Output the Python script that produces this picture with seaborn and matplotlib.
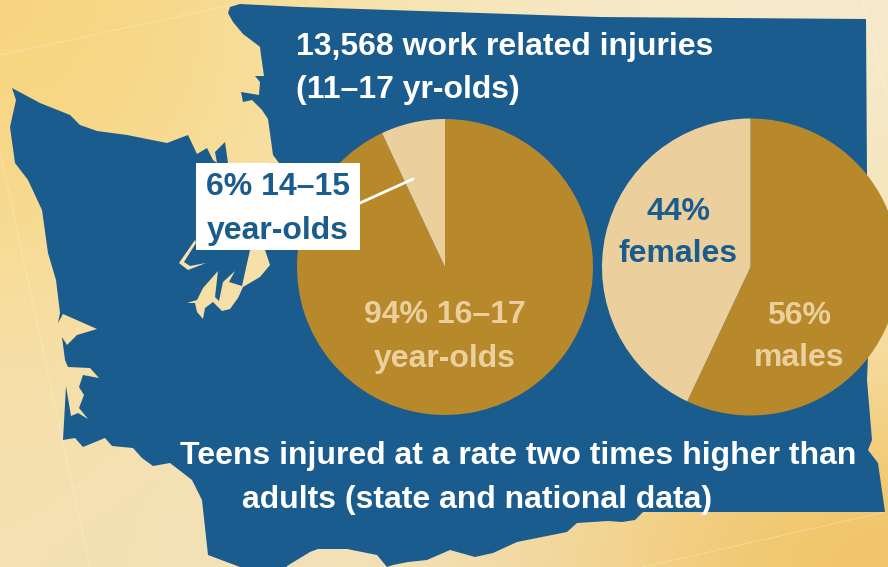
import numpy as np
import seaborn as sns
import matplotlib.pyplot as plt
from matplotlib.colors import to_rgb
from matplotlib.patches import Polygon, Rectangle

# values as drawn in the picture (wedges are a bit off from their printed labels)
age_groups = ["16-17", "14-15"]
age_shares = [93, 7]
sex_groups = ["males", "females"]
sex_shares = [57, 43]

title_lines = ["13,568 work related injuries", "(11\u201317 yr-olds)"]
box_lines = ["6% 14\u201315", "year-olds"]
age_lines = ["94% 16\u201317", "year-olds"]
fem_lines = ["44%", "females"]
male_lines = ["56%", "males"]
foot_lines = ["Teens injured at a rate two times higher than",
              "adults (state and national data)"]

BLUE = "#1b5c8e"
GOLD = "#b8892b"
TAN = "#ebd09e"

# washington outline, traced in pixels
state = [(240,4),(300,7),(600,17),(866,19),(867,176),(868,357),(867,380),(872,440),(868,450),
 (878,463),(885,512),(643,512),(635,520),(622,522),(608,521),(577,523),(567,532),(517,542),
 (493,553),(475,557),(450,550),(427,560),(408,562),(393,565),(387,567),(377,555),(347,549),
 (318,549),(310,552),(287,566),(286,570),(243,570),(240,567),(208,555),(202,500),(192,480),
 (170,463),(153,466),(142,458),(133,448),(112,446),(105,438),(83,447),(75,438),(63,440),
 (66,386),(71,416),(78,413),(88,419),(79,408),(84,395),(79,387),(83,375),(99,378),(90,368),
 (68,367),(65,360),(62,337),(67,345),(77,335),(97,329),(63,314),(58,323),(60,313),(56,280),
 (48,253),(42,210),(28,180),(15,163),(10,127),(16,100),(12,88),(40,103),(70,115),(80,125),
 (97,131),(127,135),(167,143),(188,135),(197,154),(207,148),(213,160),(217,163),(215,152),
 (225,142),(228,163),(240,200),(250,250),(242,286),(229,282),(235,271),(223,282),(219,301),
 (215,297),(218,271),(203,288),(197,300),(187,303),(195,303),(197,312),(203,319),(205,308),
 (213,302),(222,311),(230,309),(238,298),(243,287),(260,277),(270,265),(265,250),
 (279,163),(273,155),(268,119),(262,110),(252,100),(243,102),(241,92),(259,95),(260,82),
 (255,76),(264,76),(261,55),(260,47),(255,43),(243,34),(233,22),(228,13),(230,7)]
# thin inlet west of the peninsula
inlet = [(195,240),(179,263),(188,270),(206,263),(190,266),(184,262),(196,243)]

sns.set_theme(style="white")
plt.rcParams['font.family'] = ['Liberation Sans', 'DejaVu Sans']
plt.rcParams['font.weight'] = 'bold'

fig = plt.figure(figsize=(8.88, 5.67), dpi=100)
ax = fig.add_axes([0, 0, 1, 1])

# paper background
paper = [["#f8d57e", "#f8e2a8", "#f6e9c6", "#f5eacb"],
         ["#f8da8e", "#f7e3ae", "#f4e6c2", "#f6e6bc"],
         ["#f7e0a8", "#f3e2ba", "#f3e2b8", "#f6dda0"],
         ["#f4e0b0", "#f2e3c0", "#f3d9a0", "#f1c465"]]
paper_rgb = np.array([[to_rgb(c) for c in row] for row in paper])
ax.imshow(paper_rgb, extent=(0, 888, 567, 0), aspect="auto", interpolation="bicubic", zorder=0)

# faint slide guide lines
for x0, y0, x1, y1 in [(0, 55, 227, 6), (0, 152, 90, 567), (643, 567, 885, 512), (862, 0, 888, 100)]:
    ax.plot([x0, x1], [y0, y1], color="white", lw=0.7, ls=(0, (3, 1)), alpha=0.35, zorder=1)

ax.add_patch(Polygon(state, closed=True, fc=BLUE, ec="none", zorder=2))
ax.add_patch(Polygon(inlet, closed=True, fc="#f6e3ae", ec="none", zorder=3))
ax.set_xlim(0, 888)
ax.set_ylim(567, 0)
ax.axis("off")


def draw_pie(cx, cy, r, shares):
    pie_ax = fig.add_axes([(cx - r) / 888, (567 - cy - r) / 567, 2 * r / 888, 2 * r / 567])
    pie_ax.pie(shares, colors=[GOLD, TAN], startangle=90, counterclock=False, radius=1,
               wedgeprops={"linewidth": 0, "edgecolor": "none"})
    pie_ax.set_xlim(-1, 1)
    pie_ax.set_ylim(-1, 1)
    pie_ax.patch.set_alpha(0)
    pie_ax.axis("off")
    return pie_ax


draw_pie(445, 267, 148, age_shares)
draw_pie(750.5, 267, 148.5, sex_shares)

# overlay axes for text, box and leader
top = fig.add_axes([0, 0, 1, 1])
top.set_xlim(0, 888)
top.set_ylim(567, 0)
top.axis("off")
top.patch.set_alpha(0)

top.add_patch(Rectangle((196, 163), 164, 87, fc="white", ec="none", zorder=2))
top.plot([360, 413], [203, 179], color="white", lw=2, zorder=2)

FS = 23


def put(x, y, s, color, ha="center"):
    top.text(x, y, s, color=color, ha=ha, va="baseline", fontsize=FS, fontweight="bold", zorder=4)


put(296, 55, title_lines[0], "white", "left")
put(296, 98, title_lines[1], "white", "left")
put(277.5, 195, box_lines[0], BLUE)
put(277.5, 239, box_lines[1], BLUE)
put(445, 323, age_lines[0], TAN)
put(445, 367, age_lines[1], TAN)
put(678, 220, fem_lines[0], BLUE)
put(678, 262, fem_lines[1], BLUE)
put(799, 324, male_lines[0], TAN)
put(799, 366, male_lines[1], TAN)
put(518, 464, foot_lines[0], "white")
put(477, 508, foot_lines[1], "white")

fig.savefig("out.png", dpi=100)
plt.close()
